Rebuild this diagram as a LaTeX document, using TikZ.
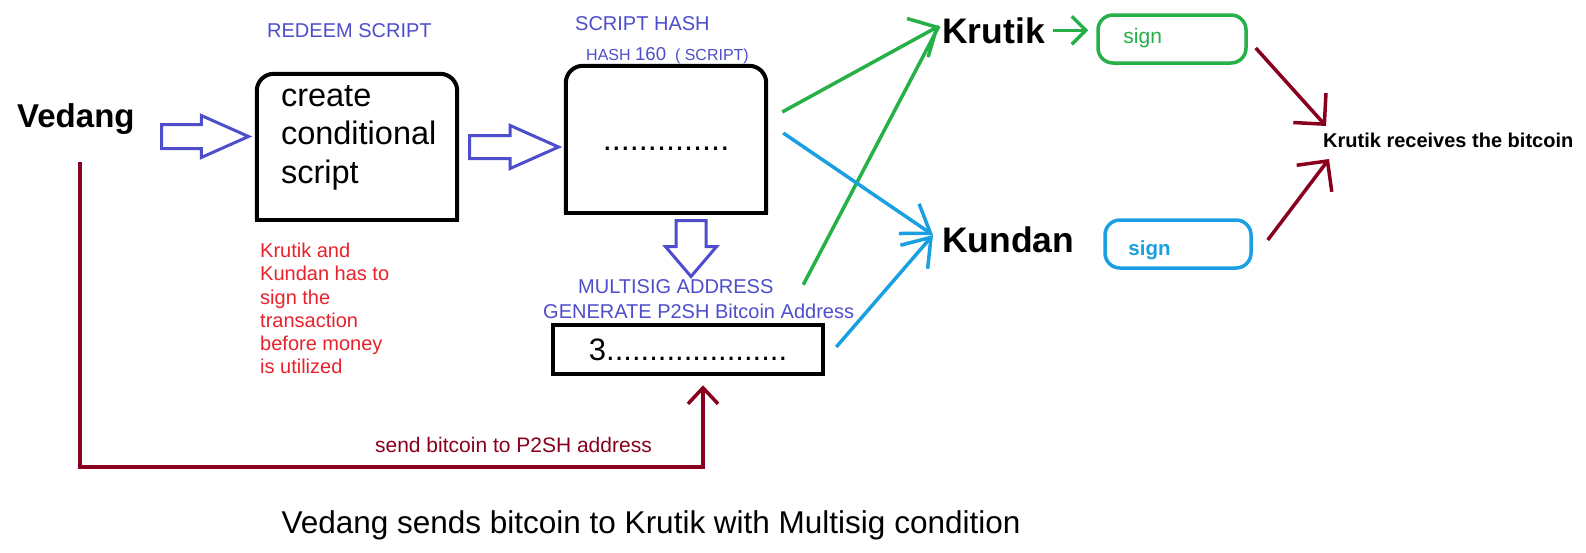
\documentclass[tikz,border=0pt]{standalone}
\usepackage{fontspec}
\setmainfont{Liberation Sans}
\usetikzlibrary{arrows.meta,shapes.arrows}
\definecolor{scriptblue}{RGB}{78,78,204}
\definecolor{notered}{RGB}{232,34,44}
\definecolor{sendred}{RGB}{136,0,30}
\definecolor{krutikgreen}{RGB}{38,176,72}
\definecolor{kundanblue}{RGB}{26,160,226}
\begin{document}
\begin{tikzpicture}[
		x=1pt,y=1pt,
		every node/.style={inner sep=0pt},
		person/.style={font=\bfseries\fontsize{35.5}{40}\selectfont,anchor=base west},
		bluelabel/.style={text=scriptblue,font=\fontsize{20}{24}\selectfont,anchor=base west},
		boxline/.style={line width=4pt},
		blockarrow/.style={single arrow,draw=scriptblue,line width=3pt,anchor=tail,inner xsep=0pt},
		greenline/.style={draw=krutikgreen,line width=3.5pt},
		blueline/.style={draw=kundanblue,line width=3.5pt},
		sendline/.style={draw=sendred,line width=3.5pt}
	]
	\path[use as bounding box,fill=white] (0,0) rectangle (1586,-552);
	\node[font=\bfseries\fontsize{33}{38}\selectfont,anchor=base west] (vedang) at (17,-127) {Vedang};
	\node[bluelabel] (redeem) at (267,-37) {REDEEM SCRIPT};
	\node[bluelabel] (scripthash) at (575,-30) {SCRIPT HASH};
	\node[bluelabel,font=\fontsize{16}{20}\selectfont] (hashfn) at (586,-60) {HASH {\fontsize{18.6}{20}\selectfont 160}\ \ ( SCRIPT)};
	\node[minimum width=200pt,minimum height=146pt] (b1) at (357,-147) {};
	\node[font=\fontsize{32.5}{38.5}\selectfont,align=left,anchor=north west] (createtext) at ([shift={(24,-11)}]b1.north west) {create\\conditional\\script};
	\node[minimum width=200pt,minimum height=147pt] (b2) at (666,-139.5) {};
	\node[font=\fontsize{32.5}{38}\selectfont,anchor=base] (hashdots) at (666,-150) {..............};
	\node[blockarrow,minimum height=87pt,inner ysep=10.5pt,single arrow head extend=9pt,single arrow tip angle=48] (arr1) at (160,-136.5) {};
	\node[blockarrow,minimum height=89pt,inner ysep=10pt,single arrow head extend=10pt,single arrow tip angle=48] (arr2) at (468,-147) {};
	\node[blockarrow,rotate=-90,minimum height=56pt,inner ysep=13.5pt,single arrow head extend=10.5pt,single arrow tip angle=81] (hashdown) at (691,-219) {};
	\node[text=notered,font=\fontsize{20}{23.2}\selectfont,align=left,anchor=north west] (note) at (260,-243) {Krutik and\\Kundan has to\\sign the\\transaction\\before money\\is utilized};
	\node[bluelabel] (msig) at (578,-293) {MULTISIG ADDRESS};
	\node[bluelabel] (gen) at (543,-318) {GENERATE P2SH Bitcoin Address};
	\node[draw,line width=4.5pt,minimum width=270pt,minimum height=49pt,font=\fontsize{31}{36}\selectfont] (b3) at (688,-349.5) {3.....................};
	\node[text=sendred,font=\fontsize{21}{25}\selectfont,anchor=base east] (sendlabel) at (652,-452) {send bitcoin to P2SH address};
	\node[font=\fontsize{31.5}{36}\selectfont,anchor=base] (caption) at (651,-533) {Vedang sends bitcoin to Krutik with Multisig condition};
	\node[person] (krutik) at (942,-43) {Krutik};
	\node[person] (kundan) at (942,-252) {Kundan};
	\node[draw=krutikgreen,line width=3.5pt,rounded corners=15pt,minimum width=148pt,minimum height=48pt] (gsign) at (1172,-39) {};
	\node[text=krutikgreen,font=\fontsize{21}{25}\selectfont,anchor=base west] (gsigntext) at ([shift={(27,-4)}]gsign.west) {sign};
	\node[draw=kundanblue,line width=3.5pt,rounded corners=15pt,minimum width=146pt,minimum height=48pt] (bsign) at (1178,-244) {};
	\node[text=kundanblue,font=\bfseries\fontsize{20.5}{24}\selectfont,anchor=base west] (bsigntext) at ([shift={(25,-11)}]bsign.west) {sign};
	\node[font=\bfseries\fontsize{20}{24}\selectfont,anchor=base west] (recv) at (1323,-147) {Krutik receives the bitcoin};
	\draw[boxline,rounded corners=17pt] (b1.south west) -- (b1.north west) -- (b1.north east) -- (b1.south east);
	\draw[boxline,line cap=rect] (b1.south west) -- (b1.south east);
	\draw[boxline,rounded corners=17pt] (b2.south west) -- (b2.north west) -- (b2.north east) -- (b2.south east);
	\draw[boxline,line cap=rect] (b2.south west) -- (b2.south east);
	\coordinate (hashup) at ([shift={(16,27.5)}]b2.east);
	\coordinate (hashdn) at ([shift={(17,6.5)}]b2.east);
	\coordinate (addrup) at ([shift={(-22,38)}]b3.north east);
	\coordinate (addrdn) at ([shift={(11,2.5)}]b3.east);
	\coordinate (ktip) at ([shift={(-3,17)}]krutik.base west);
	\coordinate (ntip) at ([shift={(-9,17)}]kundan.base west);
	\coordinate (turn) at (703,-467);
	\draw[greenline,-{Straight Barb[length=22pt,width=44pt]}] (hashup) -- (ktip);
	\draw[greenline] (addrup) -- (ktip);
	\draw[blueline,-{Straight Barb[length=26pt,width=36pt]}] (hashdn) -- (ntip);
	\draw[blueline,-{Straight Barb[length=26pt,width=36pt]}] (addrdn) -- (ntip);
	\draw[greenline,shorten <=8pt,shorten >=8pt,-{Straight Barb[length=14pt,width=28pt]}] (krutik.east) -- (krutik.east -| gsign.west);
	\draw[sendline,-{Straight Barb[length=22pt,width=44pt]}] ([shift={(8,-9)}]gsign.east) -- ([shift={(3,21)}]recv.base west);
	\draw[sendline,-{Straight Barb[length=22pt,width=44pt]}] ([shift={(15,4)}]bsign.east) -- ([shift={(6,-12)}]recv.base west);
	\draw[sendline,-{Straight Barb[length=16pt,width=30pt]}] ([shift={(4,-28)}]vedang.south) |- (turn) -- ([shift={(15,-9)}]b3.south);
\end{tikzpicture}
\end{document}
